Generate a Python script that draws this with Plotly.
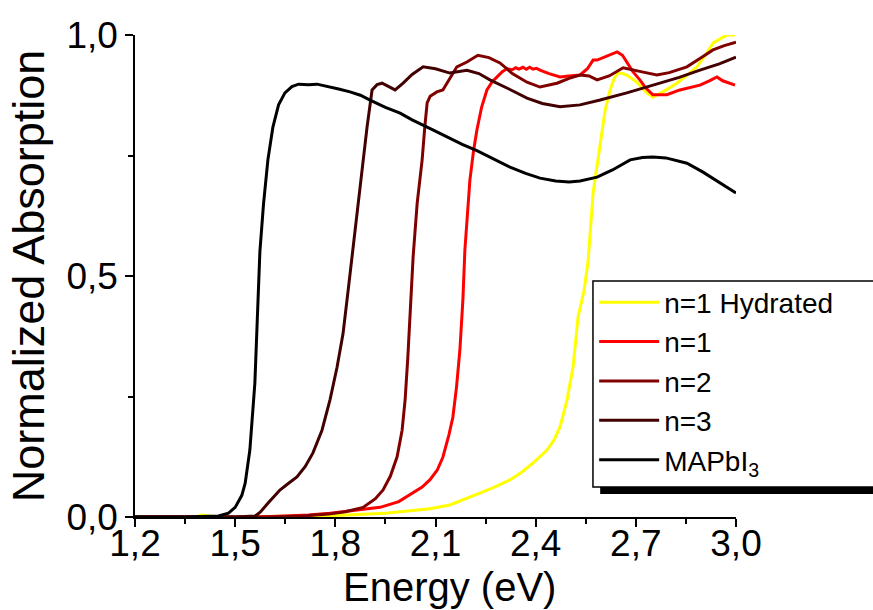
import plotly.graph_objects as go

# ---- data ----
mapi_E = [1.20, 1.35, 1.45, 1.48, 1.50, 1.52, 1.53, 1.544, 1.559, 1.574, 1.585, 1.598, 1.613, 1.63, 1.649,
          1.67, 1.69, 1.72, 1.745, 1.78, 1.81, 1.844, 1.875, 1.904, 1.95, 1.994, 2.03, 2.092, 2.134, 2.18,
          2.224, 2.27, 2.323, 2.37, 2.413, 2.46, 2.50, 2.533, 2.584, 2.63, 2.683, 2.72, 2.751, 2.79, 2.853,
          2.90, 2.93, 2.965, 3.0]
mapi_A = [0, 0, 0.002, 0.008, 0.02, 0.045, 0.07, 0.139, 0.278, 0.55, 0.65, 0.741, 0.809, 0.855, 0.88,
          0.893, 0.898, 0.897, 0.898, 0.893, 0.888, 0.882, 0.875, 0.865, 0.85, 0.838, 0.824, 0.803, 0.788, 0.773,
          0.76, 0.745, 0.726, 0.713, 0.703, 0.697, 0.695, 0.697, 0.705, 0.72, 0.741, 0.746, 0.747, 0.745, 0.734,
          0.716, 0.703, 0.688, 0.672]

n3_E = [1.2, 1.5, 1.56, 1.575, 1.6, 1.634, 1.66, 1.685, 1.71, 1.733, 1.76, 1.784, 1.805, 1.823, 1.84, 1.85,
        1.862, 1.874, 1.885, 1.895, 1.91, 1.925, 1.94, 1.96, 1.979, 2.003, 2.03, 2.063, 2.1, 2.143, 2.194,
        2.23, 2.263, 2.32, 2.374, 2.42, 2.473, 2.533, 2.593, 2.673, 2.72, 2.772, 2.83, 2.892, 2.95, 3.0]
n3_A = [0, 0, 0.002, 0.01, 0.03, 0.056, 0.07, 0.083, 0.105, 0.133, 0.18, 0.243, 0.31, 0.38, 0.48, 0.54,
        0.61, 0.672, 0.74, 0.809, 0.886, 0.897, 0.9, 0.893, 0.886, 0.9, 0.918, 0.934, 0.93, 0.921, 0.927,
        0.92, 0.907, 0.888, 0.869, 0.858, 0.851, 0.855, 0.865, 0.88, 0.89, 0.9, 0.912, 0.927, 0.94, 0.954]

n2_E = [1.2, 1.6, 1.7, 1.78, 1.83, 1.883, 1.92, 1.943, 1.965, 1.985, 2.0, 2.009, 2.017, 2.024, 2.033, 2.045,
        2.06, 2.068, 2.075, 2.084, 2.104, 2.122, 2.134, 2.15, 2.164, 2.194, 2.227, 2.26, 2.293, 2.33, 2.374,
        2.413, 2.464, 2.50, 2.533, 2.56, 2.584, 2.62, 2.662, 2.722, 2.763, 2.8, 2.853, 2.9, 2.931, 2.965, 3.0]
n2_A = [0, 0, 0.002, 0.006, 0.011, 0.02, 0.038, 0.056, 0.085, 0.125, 0.18, 0.243, 0.33, 0.415, 0.54, 0.65,
        0.741, 0.81, 0.859, 0.873, 0.882, 0.886, 0.9, 0.92, 0.934, 0.944, 0.958, 0.953, 0.942, 0.92, 0.902,
        0.892, 0.9, 0.91, 0.917, 0.915, 0.907, 0.915, 0.932, 0.923, 0.917, 0.922, 0.934, 0.955, 0.969, 0.978, 0.985]

n1_E = [1.2, 1.55, 1.65, 1.72, 1.784, 1.85, 1.934, 1.99, 2.033, 2.06, 2.083, 2.105, 2.122, 2.14, 2.152, 2.163,
        2.173, 2.182, 2.188, 2.195, 2.203, 2.214, 2.224, 2.238, 2.254, 2.27, 2.284, 2.3, 2.314, 2.33, 2.34,
        2.35, 2.362, 2.372, 2.382, 2.392, 2.402, 2.413, 2.44, 2.473, 2.50, 2.533, 2.555, 2.572, 2.584, 2.61,
        2.644, 2.66, 2.673, 2.69, 2.712, 2.73, 2.751, 2.793, 2.832, 2.86, 2.892, 2.92, 2.943, 2.96, 2.973, 2.997]
n1_A = [0, 0, 0.002, 0.004, 0.008, 0.013, 0.02, 0.032, 0.05, 0.062, 0.077, 0.097, 0.124, 0.17, 0.207, 0.27,
        0.346, 0.45, 0.554, 0.62, 0.699, 0.76, 0.803, 0.85, 0.886, 0.903, 0.913, 0.924, 0.93, 0.928, 0.932,
        0.929, 0.933, 0.929, 0.933, 0.929, 0.931, 0.927, 0.92, 0.913, 0.915, 0.917, 0.93, 0.948, 0.948, 0.955,
        0.965, 0.958, 0.944, 0.925, 0.907, 0.89, 0.876, 0.876, 0.886, 0.89, 0.896, 0.905, 0.913, 0.905, 0.902, 0.896]

hyd_E = [1.2, 1.38, 1.40, 1.42, 1.45, 1.6, 1.8, 1.95, 2.083, 2.143, 2.2, 2.242, 2.28, 2.323, 2.36, 2.392,
         2.434, 2.455, 2.473, 2.494, 2.512, 2.527, 2.545, 2.557, 2.572, 2.59, 2.608, 2.623, 2.635, 2.647,
         2.66, 2.673, 2.703, 2.733, 2.751, 2.781, 2.823, 2.85, 2.883, 2.91, 2.931, 2.955, 2.973, 2.997]
hyd_A = [0, 0, 0.004, 0.002, 0, 0.001, 0.003, 0.008, 0.017, 0.025, 0.04, 0.052, 0.063, 0.077, 0.094, 0.112,
         0.139, 0.16, 0.187, 0.243, 0.311, 0.415, 0.47, 0.53, 0.672, 0.76, 0.844, 0.886, 0.91, 0.921,
         0.92, 0.917, 0.902, 0.88, 0.871, 0.882, 0.9, 0.915, 0.934, 0.96, 0.983, 0.993, 1.0, 1.0]

series = [
    ("n=1 Hydrated", hyd_E, hyd_A, "#FFFF00"),
    ("n=1", n1_E, n1_A, "#FF0000"),
    ("n=2", n2_E, n2_A, "#800000"),
    ("n=3", n3_E, n3_A, "#420000"),
    ("MAPbI<sub>3</sub>", mapi_E, mapi_A, "#000000"),
]

x_ticks = [1.2, 1.5, 1.8, 2.1, 2.4, 2.7, 3.0]
y_ticks = [0.0, 0.5, 1.0]

FONT = "Arial, Liberation Sans, sans-serif"

fig = go.Figure()
for name, xs, ys, col in series:
    fig.add_trace(go.Scatter(x=xs, y=ys, mode="lines", name=name,
                             line=dict(color=col, width=3)))

# legend shadow and frame (frame runs past the right edge of the page, as in the reference)
fig.add_shape(type="rect", xref="paper", yref="paper",
              x0=0.774, x1=1.26, y0=0.0477, y1=0.40,
              fillcolor="black", line=dict(width=0), layer="above")
fig.add_shape(type="rect", xref="paper", yref="paper",
              x0=0.762, x1=1.248, y0=0.0622, y1=0.4896,
              fillcolor="white", line=dict(color="black", width=1.5), layer="above")

# x-axis title
fig.add_annotation(text="Energy (eV)", xref="paper", yref="paper",
                   x=0.524, y=-0.146, xanchor="center", yanchor="middle",
                   showarrow=False, font=dict(family=FONT, size=40, color="black"))

fig.update_layout(
    width=873, height=610,
    margin=dict(l=135, r=137, t=35, b=93, autoexpand=False),
    paper_bgcolor="white", plot_bgcolor="white",
    separators=", ",
    font=dict(family=FONT, color="black"),
    showlegend=True,
    legend=dict(x=0.764, xanchor="left", y=0.497, yanchor="top",
                bgcolor="rgba(0,0,0,0)", borderwidth=0,
                font=dict(family=FONT, size=28, color="black"),
                itemwidth=60, tracegroupgap=0),
    xaxis=dict(range=[1.2, 3.0], tickvals=x_ticks, tickformat=".1f",
               showline=True, linecolor="black", linewidth=1.5,
               ticks="outside", ticklen=8, tickwidth=1.5, tickcolor="black",
               minor=dict(ticks="outside", ticklen=5, tickwidth=1.5, tickcolor="black", dtick=0.15, tick0=1.2),
               showgrid=False, zeroline=False, layer="below traces", automargin=False,
               ticklabelstandoff=-15,
               tickfont=dict(size=37)),
    yaxis=dict(range=[0, 1.0], tickvals=y_ticks, tickformat=".1f",
               showline=True, linecolor="black", linewidth=1.5,
               ticks="outside", ticklen=8, tickwidth=1.5, tickcolor="black",
               minor=dict(ticks="outside", ticklen=5, tickwidth=1.5, tickcolor="black", dtick=0.25, tick0=0),
               showgrid=False, zeroline=False, layer="below traces", automargin=False,
               tickfont=dict(size=37),
               title=dict(text="Normalized Absorption", font=dict(size=45), standoff=8)),
)

fig.write_html("out.html")
